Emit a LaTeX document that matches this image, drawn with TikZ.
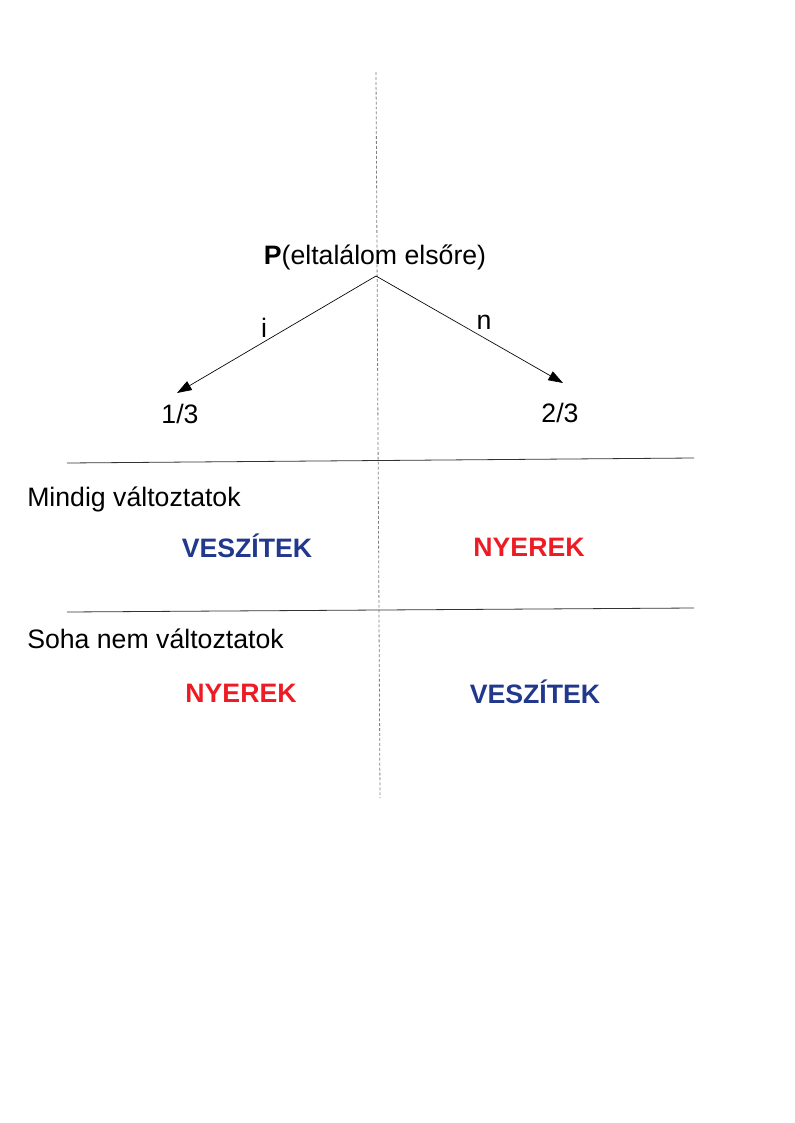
\documentclass[tikz,border=0pt]{standalone}
\usepackage{fontspec}
\setmainfont{Liberation Sans}
\usetikzlibrary{arrows.meta}
\definecolor{losecol}{RGB}{33,56,140}
\definecolor{wincol}{RGB}{237,28,36}
\begin{document}
\begin{tikzpicture}[x=0.75pt,y=-0.75pt,
  every node/.style={inner sep=0pt,font=\fontsize{20}{24}\selectfont},
  txt/.style={anchor=base west},
  lose/.style={text=losecol,font=\fontsize{20}{24}\selectfont\bfseries},
  win/.style={text=wincol,font=\fontsize{20}{24}\selectfont\bfseries},
  branch/.style={line width=0.5pt,-{Triangle[length=11pt,width=7.5pt]}},
  rule/.style={line width=0.6pt,black!80},
  axis/.style={gray,line width=0.6pt,dash pattern=on 2.2pt off 1.5pt}]
\useasboundingbox (0,0) rectangle (794,1123);
% dotted vertical
\coordinate (vtop) at (376,72);
\coordinate (vbot) at (380,798);
\draw[axis] (vtop) -- (vbot);
% horizontal rules
\coordinate (h1a) at (67,463);
\coordinate (h1b) at (694,458);
\coordinate (h2a) at (67,612);
\coordinate (h2b) at (694,608);
\draw[rule] (h1a) -- (h1b);
\draw[rule] (h2a) -- (h2b);
% tree
\node (root) at (375,257) {\textbf{P}(eltalálom elsőre)};
\coordinate (apex) at (376,276);
\coordinate (lend) at (177,393);
\coordinate (rend) at (563,383);
\draw[branch] (apex) -- (lend);
\draw[branch] (apex) -- (rend);
\node (li) at (264,328) {i};
\node (ln) at (484,322) {n};
\node (p1) at (180,414) {1/3};
\node (p2) at (560,413) {2/3};
% rows
\node[txt] (r1) at (27,506) {Mindig változtatok};
\node[txt] (r2) at (27,648) {Soha nem változtatok};
\node[lose] (a1) at (247,546) {VESZÍTEK};
\node[win] (b1) at (529,547) {NYEREK};
\node[win] (a2) at (241,693) {NYEREK};
\node[lose] (b2) at (535,692) {VESZÍTEK};
\end{tikzpicture}
\end{document}
